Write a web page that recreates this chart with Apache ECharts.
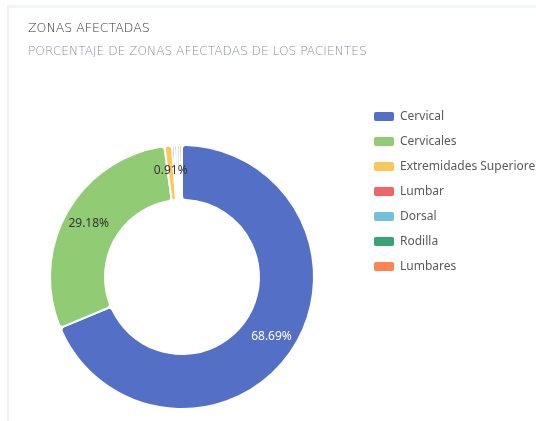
<!DOCTYPE html>
<html>
<head>
<meta charset="utf-8">
<script src="https://cdn.jsdelivr.net/npm/echarts@6/dist/echarts.min.js"></script>
<style>
  html, body { margin: 0; padding: 0; background: #fff; }
  .card {
    position: absolute; left: 7px; top: 5px; width: 540px; height: 430px;
    border-top: 3px solid #f2f5f9; border-left: 2px solid #eef1f5;
  }
  #chart { position: absolute; left: 0; top: 0; width: 536px; height: 421px; }
</style>
</head>
<body>
<div class="card"></div>
<div id="chart"></div>
<script>
const zonas = ['Cervical', 'Cervicales', 'Extremidades Superiores', 'Lumbar', 'Dorsal', 'Rodilla', 'Lumbares']
const pacientes = [226, 96, 3, 1, 1, 1, 1]
const colores = ['#5470c6', '#91cc75', '#fac858', '#ee6666', '#73c0de', '#3ba272', '#fc8452']
const labelColors = ['#fff', '#333', '#333', '#333', '#333', '#333', '#333']

const chart = echarts.init(document.getElementById('chart'))
chart.setOption({
  color: colores,
  title: {
    text: 'ZONAS AFECTADAS',
    subtext: 'PORCENTAJE DE ZONAS AFECTADAS DE LOS PACIENTES',
    left: 28,
    top: 22,
    padding: 0,
    itemGap: 11,
    textStyle: { fontSize: 12.5, fontWeight: 200, color: '#333', fontFamily: 'DejaVu Sans' },
    subtextStyle: { fontSize: 12.2, fontWeight: 200, color: '#8a90a0', fontFamily: 'DejaVu Sans' }
  },
  legend: {
    orient: 'vertical',
    left: 367,
    top: 105,
    icon: 'roundRect',
    itemWidth: 22,
    itemHeight: 11,
    itemGap: 12,
    textStyle: { fontSize: 12, color: '#5a5a5a', fontFamily: 'Noto Sans' },
    data: zonas
  },
  series: [
    {
      type: 'pie',
      center: [182, 277],
      radius: [77, 132],
      minShowLabelAngle: 2,
      itemStyle: { borderColor: '#fff', borderWidth: 2, borderRadius: 4 },
      label: {
        show: true,
        position: 'inside',
        formatter: '{d}%',
        fontSize: 12,
        fontFamily: 'Noto Sans'
      },
      data: zonas.map((name, i) => ({
        name: name,
        value: pacientes[i],
        label: { color: labelColors[i] }
      }))
    }
  ]
})
</script>
</body>
</html>
